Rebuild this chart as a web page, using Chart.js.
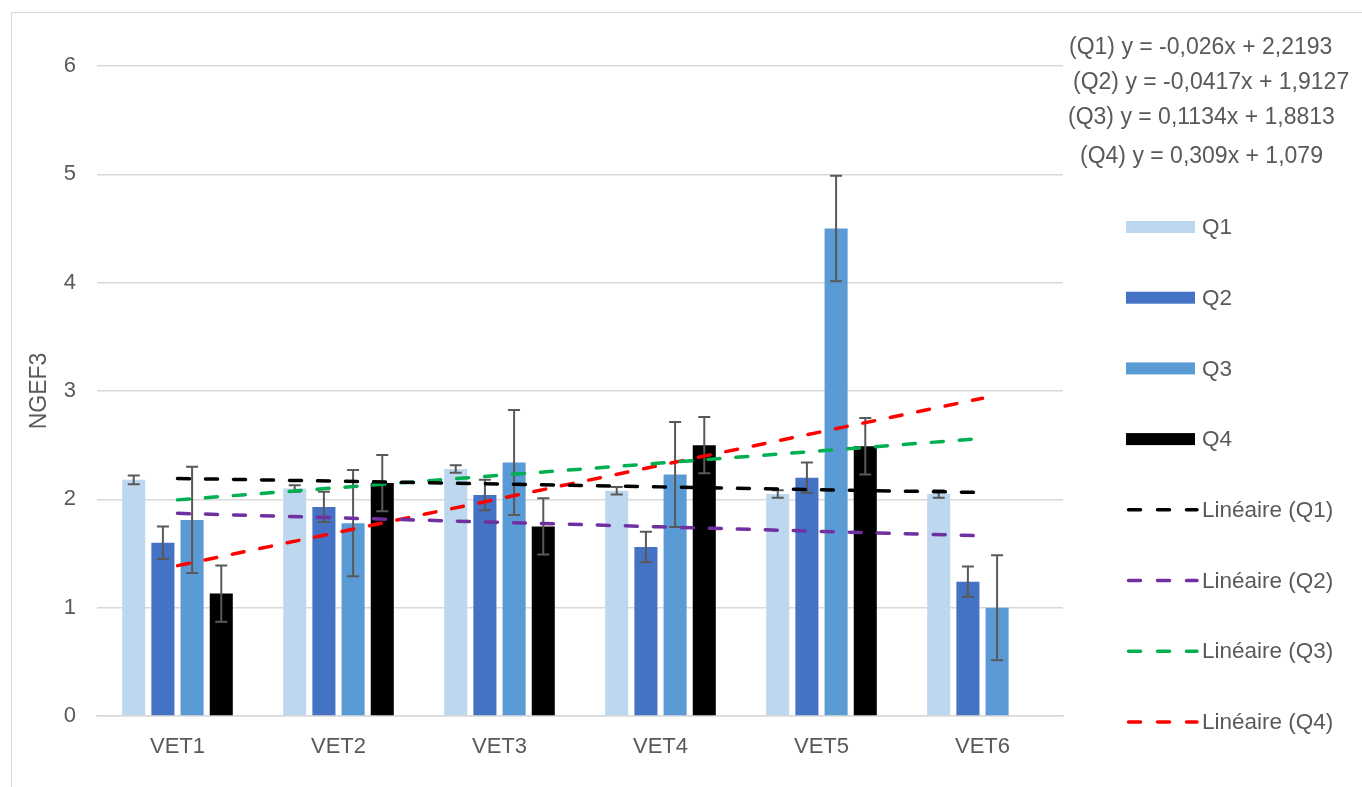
<!DOCTYPE html>
<html><head><meta charset="utf-8">
<script src="https://cdn.jsdelivr.net/npm/chart.js@4/dist/chart.umd.min.js"></script>
<style>
html,body{margin:0;padding:0;background:#fff;overflow:hidden;}
#wrap{position:relative;width:1362px;height:787px;overflow:hidden;}
#frame{position:absolute;left:11px;top:12px;width:1400px;height:800px;border:1.5px solid #d9d9d9;box-sizing:border-box;}
canvas{position:absolute;left:0;top:0;}
</style></head>
<body><div id="wrap"><div id="frame"></div><canvas id="c" width="1362" height="787"></canvas></div>
<script>
const categories = ['VET1', 'VET2', 'VET3', 'VET4', 'VET5', 'VET6'];
const seriesNames = ['Q1', 'Q2', 'Q3', 'Q4'];
const q1 = [2.18, 2.10, 2.28, 2.08, 2.05, 2.05];
const q2 = [1.60, 1.93, 2.04, 1.56, 2.20, 1.24];
const q3 = [1.81, 1.78, 2.34, 2.23, 4.50, 1.00];
const q4 = [1.13, 2.15, 1.75, 2.50, 2.49, null];
const q1Err = [0.04, 0.03, 0.035, 0.035, 0.035, 0.035];
const q2Err = [0.15, 0.14, 0.14, 0.14, 0.14, 0.14];
const q3Err = [0.49, 0.49, 0.485, 0.485, 0.487, 0.485];
const q4Err = [0.26, 0.26, 0.26, 0.26, 0.26, null];
const trendQ1 = [2.193, 2.167, 2.141, 2.115, 2.089, 2.063];
const trendQ2 = [1.871, 1.829, 1.788, 1.746, 1.704, 1.663];
const trendQ3 = [1.995, 2.108, 2.222, 2.335, 2.448, 2.562];
const trendQ4 = [1.388, 1.697, 2.006, 2.315, 2.624, 2.933];
const trendNames = ['Linéaire (Q1)', 'Linéaire (Q2)', 'Linéaire (Q3)', 'Linéaire (Q4)'];
const equations = ['(Q1) y = -0,026x + 2,2193', '(Q2) y = -0,0417x + 1,9127', '(Q3) y = 0,1134x + 1,8813', '(Q4) y = 0,309x + 1,079'];
const yTickValues = [0, 1, 2, 3, 4, 5, 6];
const yTitle = 'NGEF3';

const barColors = ['#BDD7EE', '#4472C4', '#5B9BD5', '#000000'];
const trendColors = ['#000000', '#7030A0', '#00B050', '#FF0000'];
const FONT = '"Liberation Sans", Arial, Helvetica, sans-serif';
const TXT = '#595959';

const barData = [q1, q2, q3, q4];
const errData = [q1Err, q2Err, q3Err, q4Err];
const trendData = [trendQ1, trendQ2, trendQ3, trendQ4];

const datasets = [];
seriesNames.forEach((n, i) => datasets.push({
  type: 'bar', label: n, data: barData[i], errors: errData[i],
  backgroundColor: barColors[i], borderWidth: 0, order: 2,
  categoryPercentage: 0.725, barPercentage: 0.79
}));
trendNames.forEach((n, i) => datasets.push({
  type: 'line', label: n, data: trendData[i], borderColor: trendColors[i],
  borderWidth: 3.5, borderDash: [12, 16], borderCapStyle: 'round',
  pointRadius: 0, fill: false, tension: 0, order: 1
}));

const errorBars = {
  id: 'errorBars',
  afterDatasetDraw(chart, args) {
    const ds = chart.data.datasets[args.index];
    if (!ds.errors) return;
    const y = chart.scales.y, ctx = chart.ctx;
    ctx.save();
    ctx.strokeStyle = '#595959'; ctx.lineWidth = 2;
    args.meta.data.forEach((bar, i) => {
      const v = ds.data[i], e = ds.errors[i];
      if (v == null || e == null) return;
      const yt = y.getPixelForValue(v + e), yb = y.getPixelForValue(v - e), x = bar.x, hw = 6;
      ctx.beginPath();
      ctx.moveTo(x, yt); ctx.lineTo(x, yb);
      ctx.moveTo(x - hw, yt); ctx.lineTo(x + hw, yt);
      ctx.moveTo(x - hw, yb); ctx.lineTo(x + hw, yb);
      ctx.stroke();
    });
    ctx.restore();
  }
};

const sideText = {
  id: 'sideText',
  afterDraw(chart) {
    const ctx = chart.ctx;
    ctx.save();
    ctx.fillStyle = TXT;
    ctx.textBaseline = 'middle';
    ctx.textAlign = 'left';
    ctx.font = '23px ' + FONT;
    const eqX = [1069, 1073, 1068, 1080], eqY = [48, 83, 118, 157];
    equations.forEach((t, i) => ctx.fillText(t, eqX[i], eqY[i]));
    ctx.font = '22.5px ' + FONT;
    chart.data.datasets.forEach((ds, i) => {
      const y = 227 + i * 70.7;
      if (ds.type === 'bar') {
        ctx.fillStyle = ds.backgroundColor;
        ctx.fillRect(1126, y - 6, 69, 12);
      } else {
        ctx.strokeStyle = ds.borderColor; ctx.lineWidth = 3.5; ctx.lineCap = 'round';
        ctx.setLineDash([12, 17]);
        ctx.beginPath(); ctx.moveTo(1128.5, y); ctx.lineTo(1197, y); ctx.stroke();
        ctx.setLineDash([]);
      }
      ctx.fillStyle = TXT;
      ctx.fillText(ds.label, 1202, y + 1);
    });
    ctx.restore();
  }
};

new Chart(document.getElementById('c'), {
  type: 'bar',
  data: { labels: categories, datasets },
  options: {
    responsive: false, animation: false, devicePixelRatio: 1,
    layout: { padding: { left: 0, top: 66, right: 299, bottom: 0 } },
    plugins: { legend: { display: false }, tooltip: { enabled: false } },
    scales: {
      x: {
        grid: { display: false, drawTicks: false },
        border: { display: true, color: '#d9d9d9', width: 1.5 },
        ticks: { font: { size: 22, family: FONT }, color: TXT, padding: 18 },
        afterFit(s) { s.height = 71; }
      },
      y: {
        min: 0, max: 6,
        afterBuildTicks(s) { s.ticks = yTickValues.map(v => ({ value: v })); },
        grid: { color: '#d9d9d9', lineWidth: 1.5, drawTicks: false },
        border: { display: false },
        ticks: { font: { size: 22, family: FONT }, color: TXT, padding: 21 },
        title: { display: true, text: yTitle, font: { size: 23, family: FONT }, color: TXT, padding: { top: 26, bottom: 0 } },
        afterFit(s) { s.width = 97; }
      }
    }
  },
  plugins: [errorBars, sideText]
});
</script>
</body></html>
